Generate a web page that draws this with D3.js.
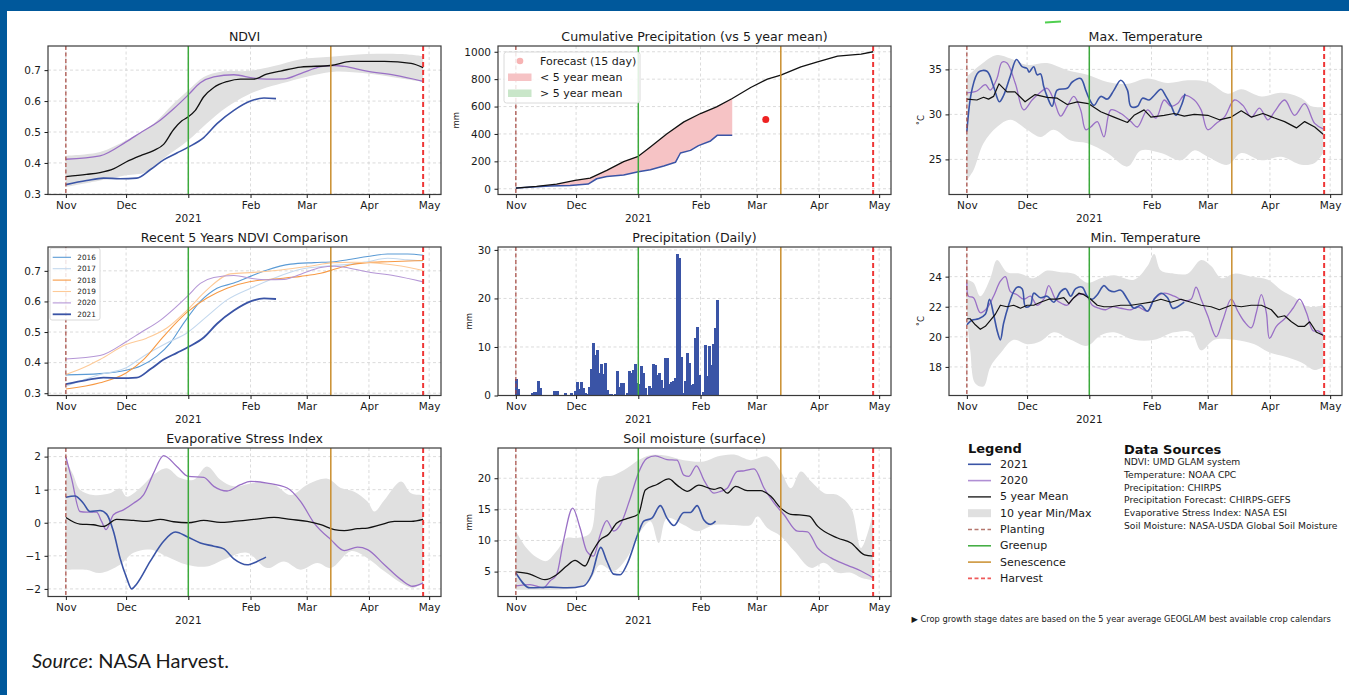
<!DOCTYPE html>
<html><head><meta charset="utf-8">
<script src="https://cdn.jsdelivr.net/npm/d3@7"></script>
<style>
body{margin:0;background:#fff;}
svg{display:block;}
text{font-family:"DejaVu Sans",sans-serif;}
text.src{font-family:Lato,"Open Sans",sans-serif;}
</style></head><body>
<svg id="chart" width="1349" height="695"></svg>
<script>
// ---------------- DATA (day offset from 1 Nov 2020, value) ----------------
const monthLabels = ["Nov","Dec","","Feb","Mar","Apr","May"];
const yearLabel = "2021";
const stageDays = {planting:0, greenup:61, senescence:132, harvest:178};

// NDVI
const ndviMean = [[0,0.356],[10.3,0.363],[17,0.369],[23.7,0.381],[30,0.403],[37,0.423],[43.7,0.44],[48.7,0.46],[53.7,0.508],[57.8,0.536],[61,0.549],[64.5,0.57],[68.7,0.614],[73.7,0.644],[80.3,0.663],[87,0.671],[93.7,0.671],[100,0.687],[107,0.697],[117,0.71],[132,0.715],[142,0.728],[158.7,0.728],[172,0.722],[178,0.708]];
const ndvi2020 = [[0,0.412],[17,0.423],[30,0.468],[37,0.497],[47,0.538],[53.7,0.575],[61,0.62],[67,0.659],[73.7,0.678],[83.7,0.685],[93.7,0.674],[100,0.671],[108.7,0.672],[117,0.689],[127,0.711],[133.7,0.715],[138.7,0.712],[150,0.697],[163.7,0.684],[178,0.664]];
const ndvi2021 = [[0,0.33],[10.3,0.343],[18.7,0.351],[27,0.349],[35.3,0.351],[42,0.378],[48.7,0.41],[55.3,0.432],[61,0.451],[68.7,0.482],[75.3,0.527],[83.7,0.57],[92,0.6],[98.7,0.61],[104.7,0.608]];
const ndviBandHi = [[0,0.423],[17,0.435],[30,0.473],[43.7,0.527],[53.7,0.592],[61,0.635],[68.7,0.678],[77,0.695],[92,0.698],[103.7,0.713],[117,0.735],[132,0.743],[150,0.752],[167,0.752],[178,0.745]];
const ndviBandLo = [[0,0.322],[17,0.343],[30,0.36],[40,0.37],[48.7,0.414],[61,0.473],[70,0.527],[80.3,0.581],[90.3,0.619],[100,0.644],[110.3,0.662],[123.7,0.684],[133.7,0.695],[150,0.689],[167,0.673],[178,0.662]];

// Recent 5 years NDVI
const ndvi2016 = [[0,0.36],[17,0.364],[30,0.375],[37,0.388],[45.3,0.421],[52,0.464],[58.7,0.529],[67,0.6],[75.3,0.643],[83.7,0.66],[92,0.682],[100.3,0.703],[112,0.722],[123.7,0.727],[133.7,0.73],[142,0.738],[150.3,0.747],[160.3,0.755],[170.3,0.755],[178,0.751]];
const ndvi2017 = [[0,0.323],[17,0.361],[30,0.383],[38.7,0.421],[50.3,0.464],[60.3,0.497],[70.3,0.551],[80.3,0.605],[92,0.643],[103.7,0.676],[117,0.705],[130.3,0.716],[142,0.722],[150.3,0.73],[160.3,0.741],[170.3,0.736],[178,0.732]];
const ndvi2018 = [[0,0.314],[17,0.334],[30,0.366],[38.7,0.41],[48.7,0.486],[60.3,0.564],[70.3,0.611],[80.3,0.643],[92,0.665],[103.7,0.673],[117,0.682],[127,0.692],[133.7,0.705],[142,0.72],[150.3,0.727],[160.3,0.73],[178,0.734]];
const ndvi2019 = [[0,0.361],[10.3,0.388],[17,0.41],[30,0.459],[40.3,0.48],[50.3,0.513],[60.3,0.571],[70.3,0.638],[82,0.69],[93.7,0.695],[107,0.703],[120.3,0.714],[133.7,0.727],[143.7,0.728],[155.3,0.725],[167,0.716],[178,0.701]];
const recentYears = ["2016","2017","2018","2019","2020","2021"];

// Cumulative precipitation (mm)
const cumMean = [[0,5],[10.3,17],[20.3,34],[29.5,61],[37,78],[45.3,134],[53.7,198],[61,237],[67,305],[75.3,402],[83.7,488],[92,549],[100,598],[107.8,659],[117,739],[125.3,800],[132,829],[142,890],[150.3,927],[160.3,968],[172,983],[178,1000]];
const cum2021 = [[0,5],[17,20],[27,24],[36,34],[40.3,73],[45.3,90],[53.7,100],[61,124],[67,139],[73.7,166],[79.5,193],[82,261],[87,280],[91,315],[97,349],[100.3,390],[107.8,390]];
const forecast = [[124.5,505]];
const cumLegend = ["Forecast (15 day)","< 5 year mean","> 5 year mean"];

// Daily precipitation (mm), one value per day from 1 Nov
const dailyPrecip = [3.4,1.3,0,0,0,0,0,0,0.5,0.8,0.8,3.0,1.5,0,0,0,0,0,0,1.0,1.0,0,0,0,0.6,0,0,0.6,0,1.0,2.7,1.3,2.7,1.5,0.5,0.3,1.8,5.4,10.8,8.4,9.4,4.6,6.5,4.5,6.7,1.2,0.3,0.3,0,0.3,5.1,1.8,2.5,2.5,0,0.5,5.1,4.6,5.3,6.5,2.5,2.4,6.0,4.6,1.5,0.1,2.0,1.5,6.5,6.3,4.3,4.6,3.2,1.5,7.7,7.7,2.4,2.7,3.0,3.6,29.1,28.4,8.0,0.5,2.9,8.7,6.8,2.1,2.4,11.8,14.2,4.3,0,0.7,10.4,4.0,10.2,6.2,10.6,13.9,19.6];

// Max temperature (°C)
const tmaxMean = [[0,31.7],[5,31.6],[8.3,31.9],[10.8,31.7],[13.3,32.0],[16,33.4],[20,32.5],[24,32.5],[29,31.4],[34,32.2],[40,31.9],[45,31.8],[50,31.1],[55,31.4],[60.5,31.2],[66.7,30.3],[73.3,29.7],[80,29.1],[83.3,29.9],[88.3,30.5],[91.7,29.7],[98.3,29.9],[103.3,30.1],[108.3,29.8],[113.3,30.0],[120,29.9],[125.8,29.4],[131.7,29.7],[136.7,30.4],[141.7,29.7],[147.5,30.1],[153.3,29.6],[158.3,29.2],[164.2,28.5],[168.3,29.2],[173.3,28.6],[177.5,27.8]];
const tmax2021 = [[0,28.1],[2.5,32.7],[5.8,34.7],[10,34.8],[13.3,33.1],[16.2,31.4],[18.3,32.1],[21.7,34.3],[24.7,36.1],[27.5,35.3],[30,35.1],[31,34.7],[33.3,35.3],[35,34.4],[36.7,34.5],[38.3,33.1],[40,32.0],[42.5,30.9],[45,32.7],[50,32.9],[52.5,33.6],[56.7,34.0],[59.2,32.7],[60.8,31.8],[63.3,31.0],[66.7,32.0],[70,31.7],[73.3,32.7],[76.7,33.8],[80,32.7],[81.7,30.9],[85,30.9],[87.5,31.8],[90.8,31.6],[93.3,32.1],[96.7,32.8],[99.2,32.0],[101.7,31.0],[104.2,29.9],[106.7,30.9],[108.7,32.3]];
const tmax2020 = [[0,32.4],[5,32.6],[9.2,33.3],[11.7,32.7],[15,34.0],[17.5,35.8],[20,35.7],[24.2,33.4],[28.3,30.5],[32.5,31.6],[35.8,32.3],[40,32.9],[43.3,31.6],[46.7,29.8],[50,30.9],[53.3,32.0],[56.7,30.5],[59.2,28.3],[61.7,28.6],[65,29.2],[68.3,27.5],[71.7,30.5],[76.7,30.1],[81.7,29.2],[85,28.6],[90,30.5],[94.2,29.6],[98.3,31.6],[101.7,30.9],[105,31.2],[108.3,32.1],[113.3,31.6],[116.7,30.5],[120,28.3],[124.2,29.0],[128.3,29.7],[133.3,31.6],[137.5,31.0],[141.7,29.7],[145.8,30.7],[150,29.4],[153.3,30.3],[158.3,31.6],[163.3,29.9],[168.3,31.2],[173.3,29.0],[177.5,28.4]];
const tmaxBandHi = [[0,34.2],[6.7,35.5],[15,36.6],[21.7,36.2],[30,35.5],[40,35.7],[50,34.9],[60,34.4],[70,33.6],[80,33.4],[90,34.0],[100,33.5],[110,33.8],[120,33.6],[130,32.3],[136.7,32.8],[146.7,32.0],[156.7,32.4],[166.7,31.8],[171.7,30.9],[177.5,30.8]];
const tmaxBandLo = [[0,22.7],[3.3,23.8],[8.3,26.8],[15,28.6],[21.7,29.4],[30,28.3],[36.7,27.5],[43.3,28.3],[51.7,27.1],[60,26.8],[70,25.7],[80,24.2],[86.7,26.0],[96.7,25.7],[106.7,24.9],[113.3,26.0],[120,25.3],[130,24.4],[136.7,25.7],[146.7,24.9],[156.7,25.3],[166.7,24.4],[173.3,24.6],[177.5,25.7]];

// Min temperature (°C)
const tminMean = [[0,21.2],[1.7,21.2],[4.2,20.8],[6.7,20.5],[9.2,20.7],[11.7,21.1],[14.2,21.5],[16.7,22.1],[20,22.0],[23.3,22.1],[26.7,21.9],[30,22.1],[33.3,22.1],[36.7,22.3],[40.8,22.5],[45,22.5],[48.3,22.6],[50.8,22.2],[53.3,22.6],[55.8,22.9],[58.3,22.8],[61.7,22.5],[65,22.1],[68.3,22.0],[71.7,22.0],[76.7,22.1],[81.7,22.1],[86.7,22.2],[91.7,22.3],[96.7,22.5],[101.7,22.3],[106.7,22.5],[111.7,22.3],[116.7,22.1],[121.7,22.0],[125.8,21.8],[131.7,22.1],[136.7,22.0],[141.7,22.1],[146.7,22.1],[151.7,21.8],[155,21.3],[158.3,21.4],[161.7,21.0],[165,20.7],[168.3,20.7],[170.8,21.0],[174.2,20.3],[177.5,20.1]];
const tmin2021 = [[0,20.8],[2.5,21.1],[5.8,21.2],[9.2,21.5],[11.3,22.5],[13.3,21.5],[15.3,20.3],[16.7,19.8],[18.3,20.9],[20.8,22.1],[23.3,23.0],[25,23.3],[27.5,23.2],[29.2,22.0],[31.7,22.1],[33.3,22.9],[36.7,22.6],[40,22.7],[43.3,22.3],[46.7,23.0],[49.2,23.2],[51.7,22.7],[54.2,23.2],[57.5,23.3],[60,22.7],[62.5,22.5],[65,22.8],[68.3,23.4],[70.8,23.1],[73.3,23.0],[76.7,23.1],[80,22.5],[83.3,21.9],[86.7,22.1],[90,21.7],[93.3,22.5],[96.7,22.9],[100,22.6],[102.5,21.9],[105,22.0],[108.3,22.3]];
const tmin2020 = [[0,23.6],[0.8,22.7],[3.3,22.6],[6.7,21.6],[10,21.9],[13.3,22.7],[16.7,23.7],[19.2,24.0],[21.7,23.0],[25,22.8],[28.3,22.5],[31.7,22.7],[35,22.1],[38.3,22.5],[40.8,23.4],[44.2,22.5],[47.5,22.2],[50,22.1],[52.5,22.5],[55.8,22.8],[59.2,22.8],[62.5,22.1],[65.8,21.9],[69.2,21.8],[72.5,22.0],[76.7,21.9],[81.7,21.8],[85,22.0],[90,21.7],[93.3,22.5],[98.3,22.9],[103.3,22.7],[108.3,22.4],[111.7,22.5],[114.2,23.3],[116.7,22.5],[120,21.4],[124.2,20.0],[127.5,21.1],[131.7,22.5],[135,21.7],[138.3,21.0],[141.7,20.6],[144.2,21.6],[146.7,22.8],[149.2,21.6],[150.8,19.9],[154.2,20.7],[158.3,21.2],[162.5,21.9],[165.8,22.5],[169.2,21.6],[172.5,20.4],[175,20.4],[177.5,20.1]];
const tminBandHi = [[0,23.8],[3.3,23.6],[6.7,22.7],[11.7,23.9],[15,25.1],[20,24.3],[26.7,24.2],[33.3,23.9],[40,24.4],[46.7,24.3],[53.3,24.2],[60,23.6],[66.7,23.9],[73.3,24.1],[83.3,23.8],[90,24.7],[93.3,25.5],[96.7,24.4],[103.3,24.2],[110,24.2],[116.7,25.1],[121.7,24.7],[126.7,23.9],[133.3,24.2],[141.7,24.0],[150,23.8],[156.7,23.1],[163.3,22.6],[170,22.0],[177.5,22.1]];
const tminBandLo = [[0,21.4],[1.7,19.1],[4.2,16.9],[8.3,16.7],[11.7,18.0],[16.7,18.9],[23.3,19.8],[30,19.5],[36.7,19.7],[43.3,20.3],[51.7,19.8],[60,19.4],[66.7,20.1],[73.3,20.3],[83.3,19.8],[93.3,19.8],[103.3,20.3],[111.7,20.3],[116.7,19.1],[123.3,19.8],[133.3,19.8],[143.3,19.5],[150,19.0],[158.3,18.7],[166.7,18.3],[173.3,17.8],[177.5,18.0]];

// Evaporative Stress Index
const esiMean = [[0,0.16],[7,-0.04],[13.7,-0.06],[18.7,-0.11],[25.3,0.1],[33.7,0.07],[40.3,0.04],[47,0.1],[53.7,0.03],[61,0],[68.7,0.07],[77,0.01],[83.7,0.04],[93.7,0.1],[103.7,0.16],[112,0.1],[120.3,0.04],[127,-0.06],[133.7,-0.21],[138.7,-0.24],[145.3,-0.18],[150.3,-0.16],[157,-0.06],[163.7,0.04],[172,0.04],[178,0.1]];
const esi2021 = [[0,0.77],[4.5,0.81],[8.7,0.59],[12,0.34],[17,0.37],[20.3,0.26],[23.7,-0.26],[27,-1.07],[30.3,-1.67],[32.8,-2.0],[35.3,-1.85],[42,-1.17],[48.7,-0.56],[54.5,-0.28],[61,-0.44],[67,-0.61],[73.7,-0.71],[78.7,-0.79],[83.7,-1.09],[90.3,-1.27],[95.3,-1.17],[99.7,-1.04]];
const esi2020 = [[0,1.99],[2.8,1.35],[7,0.34],[10.3,0.32],[15.3,0.32],[17.8,0.04],[20,-0.21],[23.7,0.24],[28.7,0.39],[33.7,0.59],[38.7,0.84],[43.7,1.5],[48.7,2.03],[55.3,1.7],[61,1.4],[68.7,1.37],[73.7,1.1],[80.3,0.96],[87,1.15],[92,1.25],[100.3,1.2],[110.3,1.05],[117,0.64],[123.7,-0.01],[132,-0.51],[138.7,-0.84],[145.3,-0.74],[150.3,-0.81],[158.7,-1.27],[167,-1.72],[172.8,-1.92],[178,-1.82]];
const esiBandHi = [[0,1.9],[3.7,1.45],[7,1.0],[13.7,0.84],[22,0.89],[27,1.03],[30.3,0.79],[37,1.05],[43.7,1.45],[50.3,1.65],[57,1.35],[63.7,1.3],[70.3,1.7],[77,1.3],[83.7,1.1],[93.7,1.2],[103.7,1.15],[112,0.84],[120.3,1.15],[130.3,1.33],[137,1.05],[143.7,0.94],[150.3,0.64],[153.7,0.34],[158.7,0.69],[167,1.25],[172,0.89],[178,0.84]];
const esiBandLo = [[0,-1.42],[10.3,-1.42],[17,-1.52],[27,-1.27],[33.7,-0.91],[42,-0.81],[50.3,-1.02],[60.3,-1.27],[70.3,-1.32],[80.3,-1.07],[90.3,-0.91],[100.3,-1.37],[108.7,-1.17],[117,-1.42],[125.3,-1.22],[132,-1.37],[142,-0.86],[150.3,-1.07],[158.7,-1.47],[167,-1.82],[172.8,-1.97],[178,-1.82]];

// Soil moisture (surface, mm)
const soilMean = [[0,4.95],[7,4.6],[14.5,3.7],[20.3,4.5],[25.3,5.9],[29.5,6.8],[34.5,5.9],[37.8,8.0],[42,10.1],[46.2,11.0],[50.3,12.8],[55.3,13.5],[61,14.2],[64.5,18.1],[70.3,19.0],[76.2,19.9],[80.3,18.9],[85.3,17.9],[91.2,18.9],[98.7,18.2],[102,18.5],[105.3,17.6],[109.5,18.7],[115.3,18.0],[122,18.0],[127,17.1],[132,15.2],[137,14.2],[141.2,14.1],[146.2,13.9],[150.3,12.3],[160.3,10.4],[167,9.6],[173.7,7.7],[178,7.5]];
const soil2021 = [[0,4.8],[7,2.4],[17,2.5],[25.3,2.4],[33.7,2.7],[37.8,4.5],[42.3,8.9],[45.3,6.7],[48.7,4.6],[52,4.5],[55.3,6.1],[61,11.2],[63.7,13.1],[67.8,13.6],[72,15.6],[75.3,13.6],[78.7,12.4],[83.7,14.5],[87,14.5],[90.3,15.6],[93.7,13.3],[97,12.6],[99.5,13.1]];
const soil2020 = [[0,2.7],[7,2.9],[13.7,2.4],[17,3.5],[20.3,4.5],[23.7,9.9],[28.3,15.2],[32,12.0],[35.3,8.3],[38.7,7.5],[42,10.9],[45.3,13.2],[48.7,11.5],[52,12.5],[57,16.8],[61,20.8],[65.3,23.2],[69.5,23.6],[75.3,23.0],[80.3,22.9],[83.7,20.5],[86.2,20.3],[90,22.0],[93.7,19.7],[98.7,17.6],[102,17.9],[105.3,18.4],[110.3,21.1],[113.7,21.2],[118.7,21.5],[123.7,18.4],[128.7,16.0],[133.7,14.1],[140.3,11.5],[145.3,11.4],[150.3,8.8],[157,7.2],[165.3,6.0],[172,5.1],[178,4.0]];
const soilBandHi = [[0,11.5],[5.3,8.8],[10.3,7.3],[15.3,6.7],[20.3,8.3],[25.3,10.4],[30.3,10.4],[37,11.2],[42,20.0],[48.7,20.5],[55.3,21.6],[61,22.9],[67,23.7],[75.3,23.6],[83.7,22.9],[93.7,22.7],[100.3,23.5],[108.7,23.8],[117,22.9],[125.3,23.5],[132,21.1],[137,18.4],[142,21.1],[147,19.5],[153.7,17.6],[160.3,17.3],[167,15.2],[172,8.8],[178,14.4]];
const soilBandLo = [[0,2.1],[10.3,2.1],[20.3,2.1],[30.3,2.4],[37,3.7],[42,6.1],[48.7,5.1],[55.3,7.2],[61,10.9],[67,13.1],[71.2,9.6],[75.3,13.6],[83.7,12.5],[90.3,11.5],[98.7,12.5],[108.7,12.5],[117,12.5],[120.3,13.9],[125.3,12.0],[132,10.7],[138.7,8.3],[147,5.6],[153.7,6.4],[160.3,4.8],[167,4.8],[172,4.0],[178,3.6]];

// Legend and notes
const legendLabels = ["2021","2020","5 year Mean","10 year Min/Max","Planting","Greenup","Senescence","Harvest"];
const sourceLines = ["NDVI: UMD GLAM system","Temperature: NOAA CPC","Precipitation: CHIRPS","Precipitation Forecast: CHIRPS-GEFS","Evaporative Stress Index: NASA ESI","Soil Moisture: NASA-USDA Global Soil Moisture"];
const footnote = "\u25B6 Crop growth stage dates are based on the 5 year average GEOGLAM best available crop calendars";

// ---------------- DRAWING ----------------
const C = {blue:"#3a54a6", purple:"#9a70c6", band:"#e0e0e0", plant:"#a4463e", green:"#3caa3c", sen:"#c98e2e", harv:"#ee3535"};
const yearColors = {"2016":"#5b9bd5","2017":"#c3d8ee","2018":"#f79a45","2019":"#fdca98","2020":"#b597d6","2021":"#3a54a6"};
const yearData = {"2016":ndvi2016,"2017":ndvi2017,"2018":ndvi2018,"2019":ndvi2019,"2020":ndvi2020,"2021":ndvi2021};

const svg = d3.select("#chart");
const dd = d => new Date(Date.UTC(2020,10,1) + d*864e5);
const colX=[48,498,949], rowY=[46,247,448], PW=393, PH=148.5;
const xDom=[dd(-8.9), dd(186.9)];
const monthTicks=d3.range(7).map(i=>new Date(Date.UTC(2020,10+i,1)));

// frame
svg.append("rect").attr("x",0).attr("y",0).attr("width",1349).attr("height",11).attr("fill","#00589b");
svg.append("rect").attr("x",0).attr("y",0).attr("width",7).attr("height",695).attr("fill","#00589b");
svg.append("line").attr("x1",1045).attr("y1",22.5).attr("x2",1061).attr("y2",21.5).attr("stroke","#4fcf4f").attr("stroke-width",2);

let clipN=0;
function bandPath(x,y,hi,lo,curve){
  const ln=d3.line().x(d=>x(dd(d[0]))).y(d=>y(d[1])).curve(curve);
  const a=ln(hi), b=ln(lo.slice().reverse());
  return a + "L" + b.slice(1) + "Z";
}
function addLine(g,x,y,data,color,w,curve){
  g.append("path").attr("d",d3.line().x(d=>x(dd(d[0]))).y(d=>y(d[1])).curve(curve||d3.curveMonotoneX)(data))
   .attr("fill","none").attr("stroke",color).attr("stroke-width",w).attr("stroke-linejoin","round");
}
function makePanel(col,row,cfg){
  const L=colX[col],T=rowY[row];
  const x=d3.scaleUtc().domain(xDom).range([L,L+PW]);
  const y=d3.scaleLinear().domain(cfg.yDomain).range([T+PH,T]);
  const g=svg.append("g");
  const id="clip"+(clipN++);
  svg.append("clipPath").attr("id",id).append("rect").attr("x",L).attr("y",T).attr("width",PW).attr("height",PH);
  const grid=g.append("g").attr("stroke","#d2d2d2").attr("stroke-width",0.8).attr("stroke-dasharray","3,2.5");
  grid.selectAll(".gx").data(monthTicks).join("line").attr("x1",d=>x(d)).attr("x2",d=>x(d)).attr("y1",T).attr("y2",T+PH);
  grid.selectAll(".gy").data(cfg.yTicks).join("line").attr("x1",L).attr("x2",L+PW).attr("y1",d=>y(d)).attr("y2",d=>y(d));
  const plot=g.append("g").attr("clip-path",`url(#${id})`);
  cfg.draw(plot,x,y);
  const vl=(d,c,w,dash)=>plot.append("line").attr("x1",x(dd(d))).attr("x2",x(dd(d))).attr("y1",T).attr("y2",T+PH)
      .attr("stroke",c).attr("stroke-width",w).attr("stroke-dasharray",dash||null);
  vl(stageDays.planting,C.plant,1.2,"4,2.5");
  vl(stageDays.greenup,C.green,1.5);
  vl(stageDays.senescence,C.sen,1.5);
  vl(stageDays.harvest,C.harv,2,"5,3");
  if(cfg.after) cfg.after(g,x,y);
  g.append("rect").attr("x",L).attr("y",T).attr("width",PW).attr("height",PH).attr("fill","none").attr("stroke","#3a3a3a").attr("stroke-width",1.2);
  const xa=g.append("g").attr("transform",`translate(0,${T+PH})`)
    .call(d3.axisBottom(x).tickValues(monthTicks).tickFormat((d,i)=>monthLabels[i]).tickSize(3.5).tickPadding(3.5).tickSizeOuter(0));
  xa.select(".domain").remove();
  xa.attr("font-size",10.5).attr("color","#1a1a1a");
  g.append("text").attr("x",x(monthTicks[2])).attr("y",T+PH+27).attr("text-anchor","middle").attr("font-size",10.5).attr("fill","#1a1a1a").text(yearLabel);
  const ya=g.append("g").attr("transform",`translate(${L},0)`)
    .call(d3.axisLeft(y).tickValues(cfg.yTicks).tickFormat(cfg.fmt).tickSize(3.5).tickPadding(3.5).tickSizeOuter(0));
  ya.select(".domain").remove();
  ya.attr("font-size",10.5).attr("color","#1a1a1a");
  g.append("text").attr("x",L+PW/2).attr("y",T-5.5).attr("text-anchor","middle").attr("font-size",12.6).attr("fill","#1a1a1a").text(cfg.title);
  if(cfg.ylabel){
    g.append("text").attr("transform",`translate(${cfg.ylabelX},${T+PH/2}) rotate(-90)`).attr("text-anchor","middle")
     .attr("dominant-baseline","central").attr("font-size",8.5).attr("fill","#222").text(cfg.ylabel);
  }
}

// 1 NDVI
makePanel(0,0,{title:"NDVI",yDomain:[0.298,0.778],yTicks:[0.3,0.4,0.5,0.6,0.7],fmt:d3.format(".1f"),
  draw:(g,x,y)=>{
    g.append("path").attr("d",bandPath(x,y,ndviBandHi,ndviBandLo,d3.curveCatmullRom)).attr("fill",C.band);
    addLine(g,x,y,ndvi2020,C.purple,1.3);
    addLine(g,x,y,ndvi2021,C.blue,1.6);
    addLine(g,x,y,ndviMean,"#111",1.3);
  }});

// 2 Cumulative precipitation
makePanel(1,0,{title:"Cumulative Precipitation (vs 5 year mean)",yDomain:[-42,1042],yTicks:[0,200,400,600,800,1000],fmt:d3.format("d"),
  ylabel:"mm",ylabelX:456,
  draw:(g,x,y)=>{
    const last=cum2021[cum2021.length-1][0];
    const top=cumMean.filter(d=>d[0]<=last);
    g.append("path").attr("d",bandPath(x,y,top,cum2021,d3.curveLinear)).attr("fill","#f6c3c5");
    addLine(g,x,y,cum2021,C.blue,1.5,d3.curveLinear);
    addLine(g,x,y,cumMean,"#111",1.3,d3.curveLinear);
    g.selectAll(".fc").data(forecast).join("circle").attr("cx",d=>x(dd(d[0]))).attr("cy",d=>y(d[1])).attr("r",3.5).attr("fill","#ee2222");
  },
  after:(g)=>{
    const lg=g.append("g");
    lg.append("rect").attr("x",504).attr("y",52).attr("width",136).attr("height",51).attr("rx",2.5).attr("fill","#fff").attr("fill-opacity",0.85).attr("stroke","#d0d0d0").attr("stroke-width",0.8);
    lg.append("circle").attr("cx",520).attr("cy",61).attr("r",3.3).attr("fill","#f7b3b3");
    lg.append("rect").attr("x",508).attr("y",73.5).attr("width",23.5).attr("height",7.5).attr("fill","#f6c3c5");
    lg.append("rect").attr("x",508).attr("y",89.5).attr("width",23.5).attr("height",7.5).attr("fill","#c9e6c9");
    lg.selectAll(".lt").data(cumLegend).join("text").attr("x",540).attr("y",(d,i)=>61+i*16.2).attr("dominant-baseline","central")
      .attr("font-size",11).attr("fill","#1a1a1a").text(d=>d);
  }});

// 3 Max temperature
makePanel(2,0,{title:"Max. Temperature",yDomain:[21.1,37.6],yTicks:[25,30,35],fmt:d3.format("d"),ylabel:"\u02DAC",ylabelX:920.5,
  draw:(g,x,y)=>{
    g.append("path").attr("d",bandPath(x,y,tmaxBandHi,tmaxBandLo,d3.curveCatmullRom)).attr("fill",C.band);
    addLine(g,x,y,tmax2020,C.purple,1.3,d3.curveCatmullRom);
    addLine(g,x,y,tmax2021,C.blue,1.6,d3.curveCatmullRom);
    addLine(g,x,y,tmaxMean,"#111",1.2,d3.curveLinear);
  }});

// 4 Recent 5 years NDVI
makePanel(0,1,{title:"Recent 5 Years NDVI Comparison",yDomain:[0.2925,0.778],yTicks:[0.3,0.4,0.5,0.6,0.7],fmt:d3.format(".1f"),
  draw:(g,x,y)=>{
    recentYears.forEach(k=>addLine(g,x,y,yearData[k],yearColors[k],k==="2021"?1.8:1.1));
  },
  after:(g)=>{
    const lg=g.append("g");
    lg.append("rect").attr("x",50).attr("y",248).attr("width",50).attr("height",72).attr("rx",2).attr("fill","#fff").attr("fill-opacity",0.85).attr("stroke","#d0d0d0").attr("stroke-width",0.8);
    recentYears.forEach((k,i)=>{
      const yy=257.3+i*11.4;
      lg.append("line").attr("x1",52.7).attr("x2",71).attr("y1",yy).attr("y2",yy).attr("stroke",yearColors[k]).attr("stroke-width",k==="2021"?1.8:1.1);
      lg.append("text").attr("x",77.3).attr("y",yy).attr("dominant-baseline","central").attr("font-size",7.3).attr("fill","#222").text(k);
    });
  }});

// 5 Daily precipitation
makePanel(1,1,{title:"Precipitation (Daily)",yDomain:[0,30.6],yTicks:[0,10,20,30],fmt:d3.format("d"),ylabel:"mm",ylabelX:469,
  draw:(g,x,y)=>{
    g.selectAll(".bar").data(dailyPrecip).join("rect")
      .attr("x",(d,i)=>Math.floor(x(dd(i)))).attr("width",(d,i)=>Math.ceil(x(dd(i+1)))-Math.floor(x(dd(i))))
      .attr("y",d=>y(d)).attr("height",d=>y(0)-y(d)).attr("fill",C.blue).attr("shape-rendering","crispEdges");
  }});

// 6 Min temperature
makePanel(2,1,{title:"Min. Temperature",yDomain:[16.1,25.97],yTicks:[18,20,22,24],fmt:d3.format("d"),ylabel:"\u02DAC",ylabelX:920.5,
  draw:(g,x,y)=>{
    g.append("path").attr("d",bandPath(x,y,tminBandHi,tminBandLo,d3.curveCatmullRom)).attr("fill",C.band);
    addLine(g,x,y,tmin2020,C.purple,1.3,d3.curveCatmullRom);
    addLine(g,x,y,tmin2021,C.blue,1.6,d3.curveCatmullRom);
    addLine(g,x,y,tminMean,"#111",1.2,d3.curveLinear);
  }});

// 7 ESI
makePanel(0,2,{title:"Evaporative Stress Index",yDomain:[-2.23,2.26],yTicks:[-2,-1,0,1,2],fmt:d3.format("d"),
  draw:(g,x,y)=>{
    g.append("path").attr("d",bandPath(x,y,esiBandHi,esiBandLo,d3.curveCatmullRom)).attr("fill",C.band);
    addLine(g,x,y,esi2020,C.purple,1.3);
    addLine(g,x,y,esi2021,C.blue,1.6);
    addLine(g,x,y,esiMean,"#111",1.3);
  }});

// 8 Soil moisture
makePanel(1,2,{title:"Soil moisture (surface)",yDomain:[1.0,24.86],yTicks:[5,10,15,20],fmt:d3.format("d"),ylabel:"mm",ylabelX:469,
  draw:(g,x,y)=>{
    g.append("path").attr("d",bandPath(x,y,soilBandHi,soilBandLo,d3.curveCatmullRom)).attr("fill",C.band);
    addLine(g,x,y,soil2020,C.purple,1.3);
    addLine(g,x,y,soil2021,C.blue,1.6);
    addLine(g,x,y,soilMean,"#111",1.3);
  }});

// Legend
const lg=svg.append("g");
lg.append("text").attr("x",968).attr("y",452.5).attr("font-size",13).attr("font-weight","bold").attr("fill","#111").text("Legend");
const legStyles=[
  {type:"line",c:C.blue,w:1.6},{type:"line",c:"#b08fd4",w:1.6},{type:"line",c:"#111",w:1.3},{type:"patch",c:C.band},
  {type:"line",c:"#b5776e",w:1.4,dash:"4,2.5"},{type:"line",c:C.green,w:1.5},{type:"line",c:C.sen,w:1.5},{type:"line",c:"#ef5a5a",w:1.8,dash:"4,2.5"}];
legendLabels.forEach((t,i)=>{
  const yy=464.3+i*16.3, s=legStyles[i];
  if(s.type==="line") lg.append("line").attr("x1",968).attr("x2",991).attr("y1",yy).attr("y2",yy).attr("stroke",s.c).attr("stroke-width",s.w).attr("stroke-dasharray",s.dash||null);
  else lg.append("rect").attr("x",968).attr("y",yy-4).attr("width",23).attr("height",8).attr("fill",s.c);
  lg.append("text").attr("x",1000).attr("y",yy).attr("dominant-baseline","central").attr("font-size",11).attr("fill","#1a1a1a").text(t);
});
lg.append("text").attr("x",1124).attr("y",453.5).attr("font-size",13).attr("font-weight","bold").attr("fill","#111").text("Data Sources");
sourceLines.forEach((t,i)=>lg.append("text").attr("x",1124).attr("y",461.7+i*12.7).attr("dominant-baseline","central").attr("font-size",9.2).attr("fill","#1a1a1a").text(t));
lg.append("text").attr("x",911.5).attr("y",619).attr("dominant-baseline","central").attr("font-size",8.3).attr("fill","#1a1a1a").text(footnote);

// Source
const src=svg.append("text").attr("class","src").attr("x",32).attr("y",668).attr("font-size",20).attr("fill","#1a1a1a");
src.append("tspan").attr("font-style","italic").text("Source");
src.append("tspan").text(": NASA Harvest.");
</script>
</body></html>
